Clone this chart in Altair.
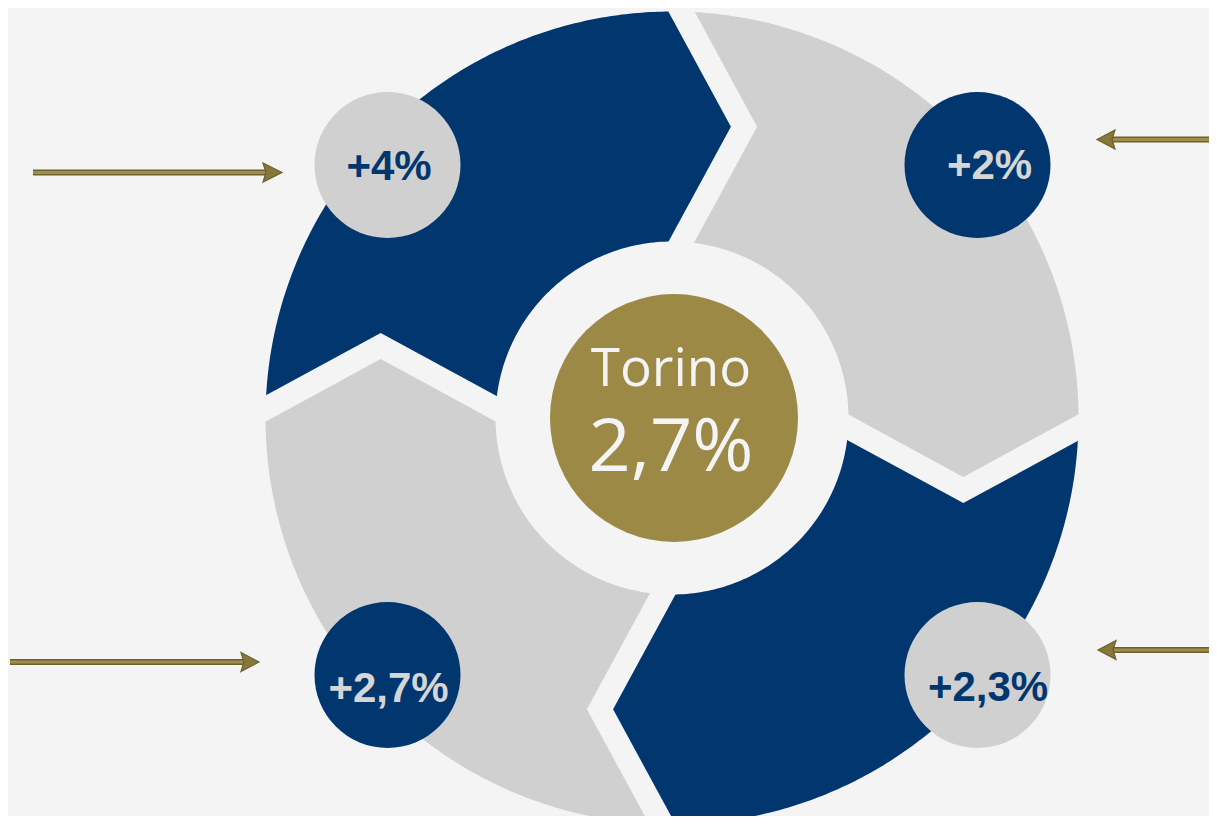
import math
import altair as alt
import pandas as pd

# ---------------- data ----------------
city_name = "Torino"
city_value = "2,7%"
# badges, clockwise from top-left
badge_labels = ["+4%", "+2%", "+2,3%", "+2,7%"]
badge_kind = ["gray", "blue", "gray", "blue"]
# ring segments, clockwise from top-left
segment_kind = ["blue", "gray", "blue", "gray"]

# ---------------- colours ----------------
BG = "#F4F4F4"
BLUE = "#02366F"
GRAY = "#D0D0D0"
GOLD = "#9C8946"
FILL = {"blue": BLUE, "gray": GRAY}
TEXT_ON = {"blue": "#D6D6D6", "gray": "#02366F"}
ARROW_DARK = "#6B602E"
ARROW_LIGHT = "#9E8F4C"

# ---------------- layout (page pixels) ----------------
PAGE_W, PAGE_H, MARGIN = 1217, 824, 8
CX, CY = 672.0, 418.0          # ring centre
R_OUT, R_IN = 406.5, 176.5     # ring radii
OFF, TIP, GAP = 9.5, 62.5, 23  # divider offset, chevron depth, gap width
R_GOLD = 124
R_BADGE = 73
BADGE_DX, BADGE_DY = 295, 255   # badge offsets from badge centre point
BCX, BCY = 682.5, 420.0
badge_sign = [(-1, -1), (1, -1), (1, 1), (-1, 1)]
label_shift = [(1.5, 15), (12, 14), (10.5, 26), (1, 27)]


def rot(v, k):
    x, y = v
    for _ in range(k):
        x, y = -y, x
    return (x, y)


def divider(k):
    u = rot((0.0, -1.0), k)
    w = rot((1.0, 0.0), k)
    s_out = math.sqrt(R_OUT ** 2 - OFF ** 2)
    s_in = math.sqrt(R_IN ** 2 - OFF ** 2)
    s_mid = (s_out + s_in) / 2

    def P(s, lat):
        return (CX + s * u[0] + lat * w[0], CY + s * u[1] + lat * w[1])

    return P(s_out, OFF), P(s_mid, OFF + TIP), P(s_in, OFF)


def ang(p):
    return math.atan2(p[1] - CY, p[0] - CX)


def arc(r, a0, a1, n):
    return [[CX + r * math.cos(a0 + (a1 - a0) * i / n),
             CY + r * math.sin(a0 + (a1 - a0) * i / n)] for i in range(n + 1)]


seg_features = []
for j in range(4):
    S_out, S_tip, S_in = divider((j + 3) % 4)
    E_out, E_tip, E_in = divider(j)
    a_s, a_e = ang(S_out), ang(E_out)
    while a_e <= a_s:
        a_e += 2 * math.pi
    b_s, b_e = ang(S_in), ang(E_in)
    while b_e <= b_s:
        b_e += 2 * math.pi
    outer = arc(R_OUT, a_s, a_e, 160)
    inner = arc(R_IN, b_e, b_s, 80)
    ring = outer + [list(E_tip)] + inner + [list(S_tip)] + [outer[0]]
    seg_features.append({"type": "Feature", "properties": {"fill": FILL[segment_kind[j]]},
                         "geometry": {"type": "Polygon", "coordinates": [ring]}})


def extend(p, q, d):
    # extend from q through p by d
    vx, vy = p[0] - q[0], p[1] - q[1]
    n = math.hypot(vx, vy)
    return [p[0] + vx / n * d, p[1] + vy / n * d]


div_features = []
for k in range(4):
    o, t, i = divider(k)
    div_features.append({"type": "Feature", "properties": {},
                         "geometry": {"type": "LineString",
                                      "coordinates": [extend(o, t, 40), list(t), extend(i, t, 25)]}})

# arrows: (tail x, tip x, y, head length, head half width)
arrows = [(33, 282, 172.5, 19, 9.5), (10, 259, 662, 18, 9.5),
          (1230, 1097, 139.5, 18, 9.5), (1230, 1098, 650, 18, 9.5)]
shaft_features, head_features = [], []
for (x0, x1, y, hl, hw) in arrows:
    sgn = 1 if x1 > x0 else -1
    base = x1 - sgn * hl
    shaft_features.append({"type": "Feature", "properties": {},
                           "geometry": {"type": "LineString",
                                        "coordinates": [[x0, y], [base + sgn * 3, y]]}})
    head_features.append({"type": "Feature", "properties": {},
                          "geometry": {"type": "Polygon",
                                       "coordinates": [[[base, y - hw], [x1, y], [base, y + hw],
                                                        [base + sgn * 3, y], [base, y - hw]]]}})

PROJ = dict(type="identity", scale=1, translate=[-MARGIN, -MARGIN])

segments = alt.Chart(alt.Data(values=seg_features)).mark_geoshape(strokeWidth=0).encode(
    color=alt.Color("properties.fill:N", scale=None)
).project(**PROJ)

gaps = alt.Chart(alt.Data(values=div_features)).mark_geoshape(
    filled=False, stroke=BG, strokeWidth=GAP, strokeJoin="miter", strokeCap="butt"
).project(**PROJ)

# Vega symbol size = area of bounding square -> (2r)^2
gold = alt.Chart(pd.DataFrame({"x": [CX + 2], "y": [CY]})).mark_circle(
    size=(2 * R_GOLD) ** 2, color=GOLD, opacity=1
).encode(longitude="x:Q", latitude="y:Q").project(**PROJ)

badge_df = pd.DataFrame({
    "x": [BCX + s[0] * BADGE_DX for s in badge_sign],
    "y": [BCY + s[1] * BADGE_DY for s in badge_sign],
    "fill": [FILL[k] for k in badge_kind],
    "tcol": [TEXT_ON[k] for k in badge_kind],
    "label": badge_labels,
})
badge_df["tx"] = badge_df["x"] + [d[0] for d in label_shift]
badge_df["ty"] = badge_df["y"] + [d[1] for d in label_shift]

badges = alt.Chart(badge_df).mark_circle(size=(2 * R_BADGE) ** 2, opacity=1).encode(
    longitude="x:Q", latitude="y:Q",
    color=alt.Color("fill:N", scale=None)
).project(**PROJ)

badge_text = alt.Chart(badge_df).mark_text(
    font="Liberation Sans", fontWeight="bold", fontSize=42, align="center", baseline="alphabetic"
).encode(
    longitude="tx:Q", latitude="ty:Q", text="label:N",
    color=alt.Color("tcol:N", scale=None)
).project(**PROJ)

centre_df = pd.DataFrame({"x": [CX - 1, CX - 1], "y": [386, 471], "t": [city_name, city_value],
                          "s": ["name", "value"]})
centre_name = alt.Chart(centre_df[centre_df.s == "name"]).mark_text(
    font="Open Sans", fontSize=53, fontWeight=500, color=BG, align="center", baseline="alphabetic"
).encode(longitude="x:Q", latitude="y:Q", text="t:N").project(**PROJ)
centre_value = alt.Chart(centre_df[centre_df.s == "value"]).mark_text(
    font="Open Sans", fontSize=74, fontWeight=500, color=BG, align="center", baseline="alphabetic"
).encode(longitude="x:Q", latitude="y:Q", text="t:N").project(**PROJ)

shaft_dark = alt.Chart(alt.Data(values=shaft_features)).mark_geoshape(
    filled=False, stroke=ARROW_DARK, strokeWidth=6, strokeCap="butt"
).project(**PROJ)
shaft_light = alt.Chart(alt.Data(values=shaft_features)).mark_geoshape(
    filled=False, stroke=ARROW_LIGHT, strokeWidth=3, strokeCap="butt"
).project(**PROJ)
heads = alt.Chart(alt.Data(values=head_features)).mark_geoshape(
    fill="#867838", stroke=ARROW_DARK, strokeWidth=1.2, strokeJoin="miter"
).project(**PROJ)

chart = alt.layer(
    segments, gaps, gold, badges, badge_text, centre_name, centre_value,
    shaft_dark, shaft_light, heads
).properties(
    width=PAGE_W - 2 * MARGIN, height=PAGE_H - 2 * MARGIN,
    padding=0, autosize=alt.AutoSizeParams(type="none"), background=BG
).configure_view(strokeWidth=0)

chart.save("out.html", embed_options={"renderer": "svg", "actions": False})
